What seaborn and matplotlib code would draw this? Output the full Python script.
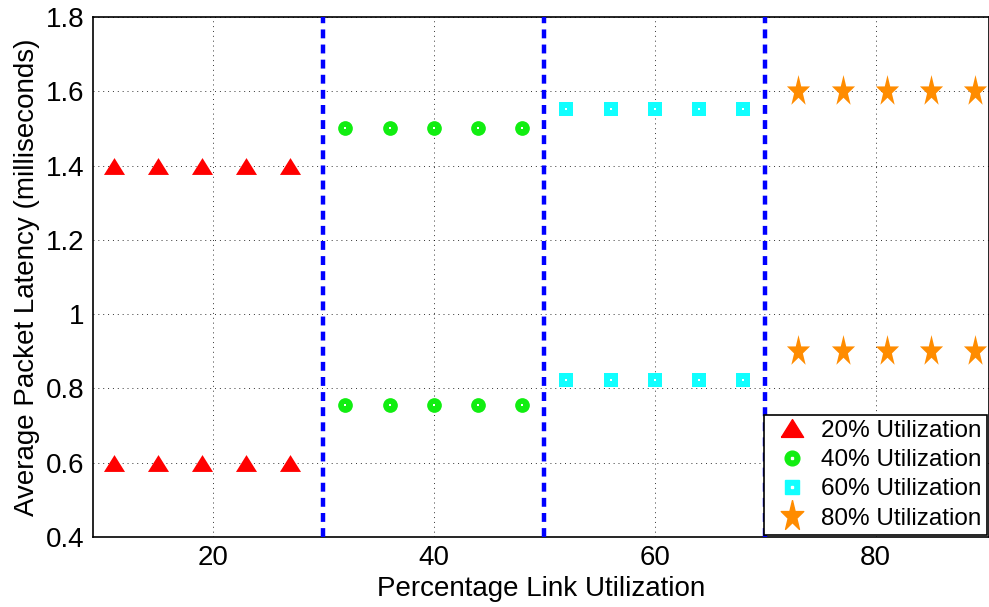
import matplotlib
matplotlib.use("Agg")
import matplotlib.pyplot as plt
import numpy as np
import pandas as pd
import seaborn as sns
from matplotlib.lines import Line2D
from matplotlib.legend_handler import HandlerTuple
from matplotlib.ticker import FuncFormatter

# data
x_20 = [11, 15, 19, 23, 27]
x_40 = [32, 36, 40, 44, 48]
x_60 = [52, 56, 60, 64, 68]
x_80 = [73, 77, 81, 85, 89]
lat_20 = [1.4, 0.6]
lat_40 = [1.5, 0.755]
lat_60 = [1.552, 0.824]
lat_80 = [1.602, 0.9]
groups = ["20% Utilization", "40% Utilization", "60% Utilization", "80% Utilization"]
boundaries = [30, 50, 70]
x_ticks = [20, 40, 60, 80]
y_ticks = [0.4, 0.6, 0.8, 1.0, 1.2, 1.4, 1.6, 1.8]

rows = []
for g, xs, ys in zip(groups, [x_20, x_40, x_60, x_80], [lat_20, lat_40, lat_60, lat_80]):
    for y in ys:
        for x in xs:
            rows.append({"x": x, "latency": y, "group": g})
df = pd.DataFrame(rows)

colors = {
    groups[0]: "#ff0000",
    groups[1]: "#11ee11",
    groups[2]: "#11ffff",
    groups[3]: "#ff8c00",
}

# triangle a bit flatter, star a bit taller, like the original
tri = [(-1, -0.8), (1, -0.8), (0, 0.8), (-1, -0.8)]
ang = np.pi / 2 + np.arange(10) * np.pi / 5
rad = np.where(np.arange(10) % 2 == 0, 1.0, 0.382)
star = [(r * np.cos(a), 1.35 * r * np.sin(a)) for r, a in zip(rad, ang)]
star.append(star[0])

markers = {groups[0]: tri, groups[1]: "o", groups[2]: "s", groups[3]: star}
sizes = {groups[0]: 230, groups[1]: 112, groups[2]: 112, groups[3]: 560}

sns.set_style("white")
plt.rcParams["font.family"] = ["Liberation Sans", "DejaVu Sans"]
plt.rcParams["text.color"] = "black"
plt.rcParams["axes.labelcolor"] = "black"
plt.rcParams["xtick.color"] = "black"
plt.rcParams["ytick.color"] = "black"

fig = plt.figure(figsize=(9.89, 6.07), dpi=100)
ax = fig.add_axes([93 / 989, 70 / 607, 896 / 989, 520 / 607])

for g in groups:
    sub = df[df["group"] == g]
    sns.scatterplot(
        data=sub, x="x", y="latency",
        marker=markers[g], color=colors[g], s=sizes[g],
        linewidth=0, ax=ax, zorder=4, legend=False
    )
    if g in (groups[1], groups[2]):
        ax.scatter(sub["x"], sub["latency"], s=4, color="white", marker="s",
                   linewidth=0, zorder=5)

for b in boundaries:
    ax.axvline(b, color="#0000ff", linewidth=3.2, linestyle=(0, (2.0, 1.4)), zorder=3)

ax.set_xlim(9.14, 90.26)
ax.set_ylim(0.4, 1.8)
ax.set_xticks(x_ticks)
ax.set_yticks(y_ticks)
ax.yaxis.set_major_formatter(FuncFormatter(lambda v, p: f"{v:g}"))
ax.grid(True, color="black", linestyle=(0, (1, 4)), linewidth=0.7, alpha=0.8)
ax.tick_params(direction="in", length=5, width=0.8, labelsize=20, pad=6,
               top=False, right=False, colors="black")
for s in ax.spines.values():
    s.set_color("black")
    s.set_linewidth(1.2)

ax.set_xlabel("Percentage Link Utilization", fontsize=20, labelpad=3, color="black")
ax.set_ylabel("Average Packet Latency (milliseconds)", fontsize=20, labelpad=4, color="black")

handles = [
    Line2D([], [], linestyle="none", marker=tri, color=colors[groups[0]], markersize=16),
    (Line2D([], [], linestyle="none", marker="o", color=colors[groups[1]], markersize=10.6),
     Line2D([], [], linestyle="none", marker="s", color="white", markersize=2)),
    (Line2D([], [], linestyle="none", marker="s", color=colors[groups[2]], markersize=10.6),
     Line2D([], [], linestyle="none", marker="s", color="white", markersize=2)),
    Line2D([], [], linestyle="none", marker=star, color=colors[groups[3]], markersize=23),
]
leg = ax.legend(handles, groups, loc="lower right", fontsize=17.5, frameon=True,
                fancybox=False, edgecolor="black", framealpha=1,
                handler_map={tuple: HandlerTuple(ndivide=1)},
                borderaxespad=0.1, borderpad=0.2, labelspacing=0.3,
                handletextpad=0.25, handlelength=1.9)
leg.get_frame().set_linewidth(1.2)
for t in leg.get_texts():
    t.set_color("black")

fig.savefig("out.png", dpi=100)
